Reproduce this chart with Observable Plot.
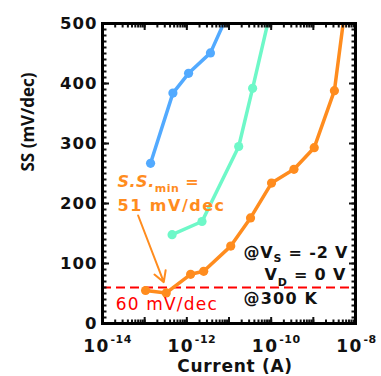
<!DOCTYPE html>
<html><head><meta charset="utf-8">
<script src="https://cdn.jsdelivr.net/npm/d3@7"></script>
<script src="https://cdn.jsdelivr.net/npm/@observablehq/plot@0.6"></script>
<style>
html,body{margin:0;padding:0;background:#fff;}
#chart{width:381px;height:376px;overflow:hidden;}
</style></head><body><div id="chart"></div>
<script>
// ---- data ----
const blueCurrent = [1.38e-13, 4.68e-13, 1.10e-12, 3.63e-12, 1.0e-11];
const blueSS = [267, 384, 417, 451, 520];
const cyanCurrent = [4.47e-13, 2.29e-12, 1.70e-11, 3.63e-11, 1.0e-10];
const cyanSS = [148, 170, 295, 392, 525];
const orangeCurrent = [1.05e-13, 3.24e-13, 1.23e-12, 2.51e-12, 1.10e-11, 3.24e-11, 1.02e-10, 3.47e-10, 1.05e-9, 3.16e-9, 6.3e-9];
const orangeSS = [55, 51, 82, 87, 129, 176, 234, 257, 293, 388, 550];
const seriesColors = ["#52AAFF", "#6EF8C8", "#FF8C1E"];
const thresholdSS = [60];
const xDomain = [1e-14, 1e-8];
const yDomain = [0, 500];
const xTickValues = [1e-14, 1e-12, 1e-10, 1e-8];
const xTickExponents = ["-14", "-12", "-10", "-8"];
const yTickValues = [0, 100, 200, 300, 400, 500];
const noteText = ["S.S.min =", "51 mV/dec", "60 mV/dec", "@VS = -2 V", "VD = 0 V", "@300 K"];
const noteCurrent = [2.27e-14, 2.27e-14, 2.05e-14, 2.21e-11, 6.95e-11, 2.21e-11];
const noteSS = [228, 188, 22, 109, 72, 33];
const noteColor = ["#FF8C1E", "#FF8C1E", "#FF0000", "#111", "#111", "#111"];
const noteBold = [true, true, false, true, true, true];
const arrowCurrent = [7.0e-14, 2.84e-13];
const arrowSS = [180, 69];

// ---- build tables ----
const series = [
  {current: blueCurrent, ss: blueSS},
  {current: cyanCurrent, ss: cyanSS},
  {current: orangeCurrent, ss: orangeSS}
];
const rows = series.flatMap((s, i) => s.current.map((c, j) => ({series: i, current: c, ss: s.ss[j]})));
const notes = noteText.map((t, i) => ({text: t, current: noteCurrent[i], ss: noteSS[i], color: noteColor[i], bold: noteBold[i]}));
const arrows = [{x1: arrowCurrent[0], y1: arrowSS[0], x2: arrowCurrent[1], y2: arrowSS[1]}];
const xMinor = d3.scaleLog().domain(xDomain).ticks();
const xMajor = d3.scaleLog().domain(xDomain).ticks().filter(v => Math.abs(Math.log10(v) - Math.round(Math.log10(v))) < 1e-6);
const yMinor = d3.range(yDomain[0], yDomain[1] + 1, 10);

const lineMarks = series.map((s, i) => Plot.line(rows.filter(r => r.series === i), {
  x: "current", y: "ss", stroke: seriesColors[i], strokeWidth: 3.5, clip: true
}));
const dotMarks = series.map((s, i) => Plot.dot(rows.filter(r => r.series === i), {
  x: "current", y: "ss", r: 4.6, fill: seriesColors[i], clip: true
}));

const plot = Plot.plot({
  width: 381, height: 376,
  marginLeft: 102, marginRight: 26, marginTop: 23, marginBottom: 53,
  x: {type: "log", domain: xDomain, axis: null},
  y: {domain: yDomain, axis: null},
  style: {fontFamily: "DejaVu Sans", background: "white", color: "#111"},
  marks: [
    Plot.ruleY(thresholdSS, {stroke: "#FF0000", strokeWidth: 2, strokeDasharray: "9,5"}),
    ...lineMarks,
    ...dotMarks,
    Plot.arrow(arrows, {x1: "x1", y1: "y1", x2: "x2", y2: "y2", stroke: "#FF8C1E", strokeWidth: 2, headLength: 9}),
    Plot.text(notes.filter(d => d.bold), {x: "current", y: "ss", text: "text", fill: "color", fontWeight: "bold", textAnchor: "start", lineAnchor: "bottom", fontSize: 16}),
    Plot.text(notes.filter(d => !d.bold), {x: "current", y: "ss", text: "text", fill: "color", fontWeight: "normal", textAnchor: "start", lineAnchor: "bottom", fontSize: 17}),
    // inward ticks
    Plot.axisX(xMinor, {anchor: "bottom", tickSize: 3.5, dy: -3.5, fill: "none", strokeWidth: 2}),
    Plot.axisX(xMajor, {anchor: "bottom", tickSize: 6, dy: -6, fill: "none", strokeWidth: 2}),
    Plot.axisX(xMinor, {anchor: "top", tickSize: 3.5, dy: 3.5, fill: "none", strokeWidth: 2}),
    Plot.axisX(xMajor, {anchor: "top", tickSize: 6, dy: 6, fill: "none", strokeWidth: 2}),
    Plot.axisY(yMinor, {anchor: "left", tickSize: 4.5, dx: 4.5, fill: "none", strokeWidth: 2}),
    Plot.axisY(yTickValues, {anchor: "left", tickSize: 7, dx: 7, fill: "none", strokeWidth: 2}),
    Plot.axisY(yMinor, {anchor: "right", tickSize: 4.5, dx: -4.5, fill: "none", strokeWidth: 2}),
    Plot.axisY(yTickValues, {anchor: "right", tickSize: 7, dx: -7, fill: "none", strokeWidth: 2}),
    // tick labels
    Plot.text(yTickValues, {y: d => d, text: d => String(d), frameAnchor: "left", textAnchor: "end", dx: -5, fontSize: 16.5, fontWeight: "bold"}),
    Plot.text(xTickValues, {x: d => d, text: () => "10", frameAnchor: "bottom", lineAnchor: "bottom", dx: -6, dy: 28, fontSize: 17, fontWeight: "bold"}),
    Plot.text(xTickValues, {x: d => d, text: (d, i) => xTickExponents[i], frameAnchor: "bottom", lineAnchor: "bottom", textAnchor: "start", dx: 8, dy: 19, fontSize: 11, fontWeight: "bold"}),
    // axis titles
    Plot.text(["Current (A)"], {text: d => d, frameAnchor: "bottom", lineAnchor: "bottom", dx: 6, dy: 48, fontSize: 17, fontWeight: "bold"}),
    Plot.text(["SS (mV/dec)"], {text: d => d, frameAnchor: "left", rotate: -90, dx: -74, dy: -2, fontSize: 17, fontWeight: "bold", fontFamily: "Open Sans"}),
    Plot.frame({stroke: "#000", strokeWidth: 3})
  ]
});

// ---- typographic touch-ups (letter spacing, sub-scripts, italics) ----
const spacing = {
  "10": 1.5, "-14": 0.5, "-12": 0.5, "-10": 0.5, "-8": 0.5,
  "Current (A)": 0.7, "SS (mV/dec)": 0,
  "S.S.min =": 0.5, "51 mV/dec": 1.5, "60 mV/dec": 1.2,
  "@VS = -2 V": 0.8, "VD = 0 V": 0.8, "@300 K": 1.2
};
const rich = {
  "S.S.min =": [{t: "S.S.", italic: true}, {t: "min", sub: 5, size: 11}, {t: " ="}],
  "@VS = -2 V": [{t: "@V"}, {t: "S", sub: 4, size: 11}, {t: " = -2 V"}],
  "VD = 0 V": [{t: "V"}, {t: "D", sub: 6, size: 11}, {t: " = 0 V"}]
};
plot.querySelectorAll("text").forEach(el => {
  const s = el.textContent;
  el.setAttribute("letter-spacing", spacing[s] != null ? spacing[s] : 1);
  const parts = rich[s];
  if (parts) {
    el.textContent = "";
    let shift = 0;
    parts.forEach(p => {
      const ts = document.createElementNS("http://www.w3.org/2000/svg", "tspan");
      ts.textContent = p.t;
      const target = p.sub || 0;
      if (target !== shift) { ts.setAttribute("dy", target - shift); shift = target; }
      if (p.size) ts.setAttribute("font-size", p.size);
      if (p.italic) ts.setAttribute("font-style", "italic");
      el.appendChild(ts);
    });
  }
});
document.getElementById("chart").appendChild(plot);
</script>
</body></html>
